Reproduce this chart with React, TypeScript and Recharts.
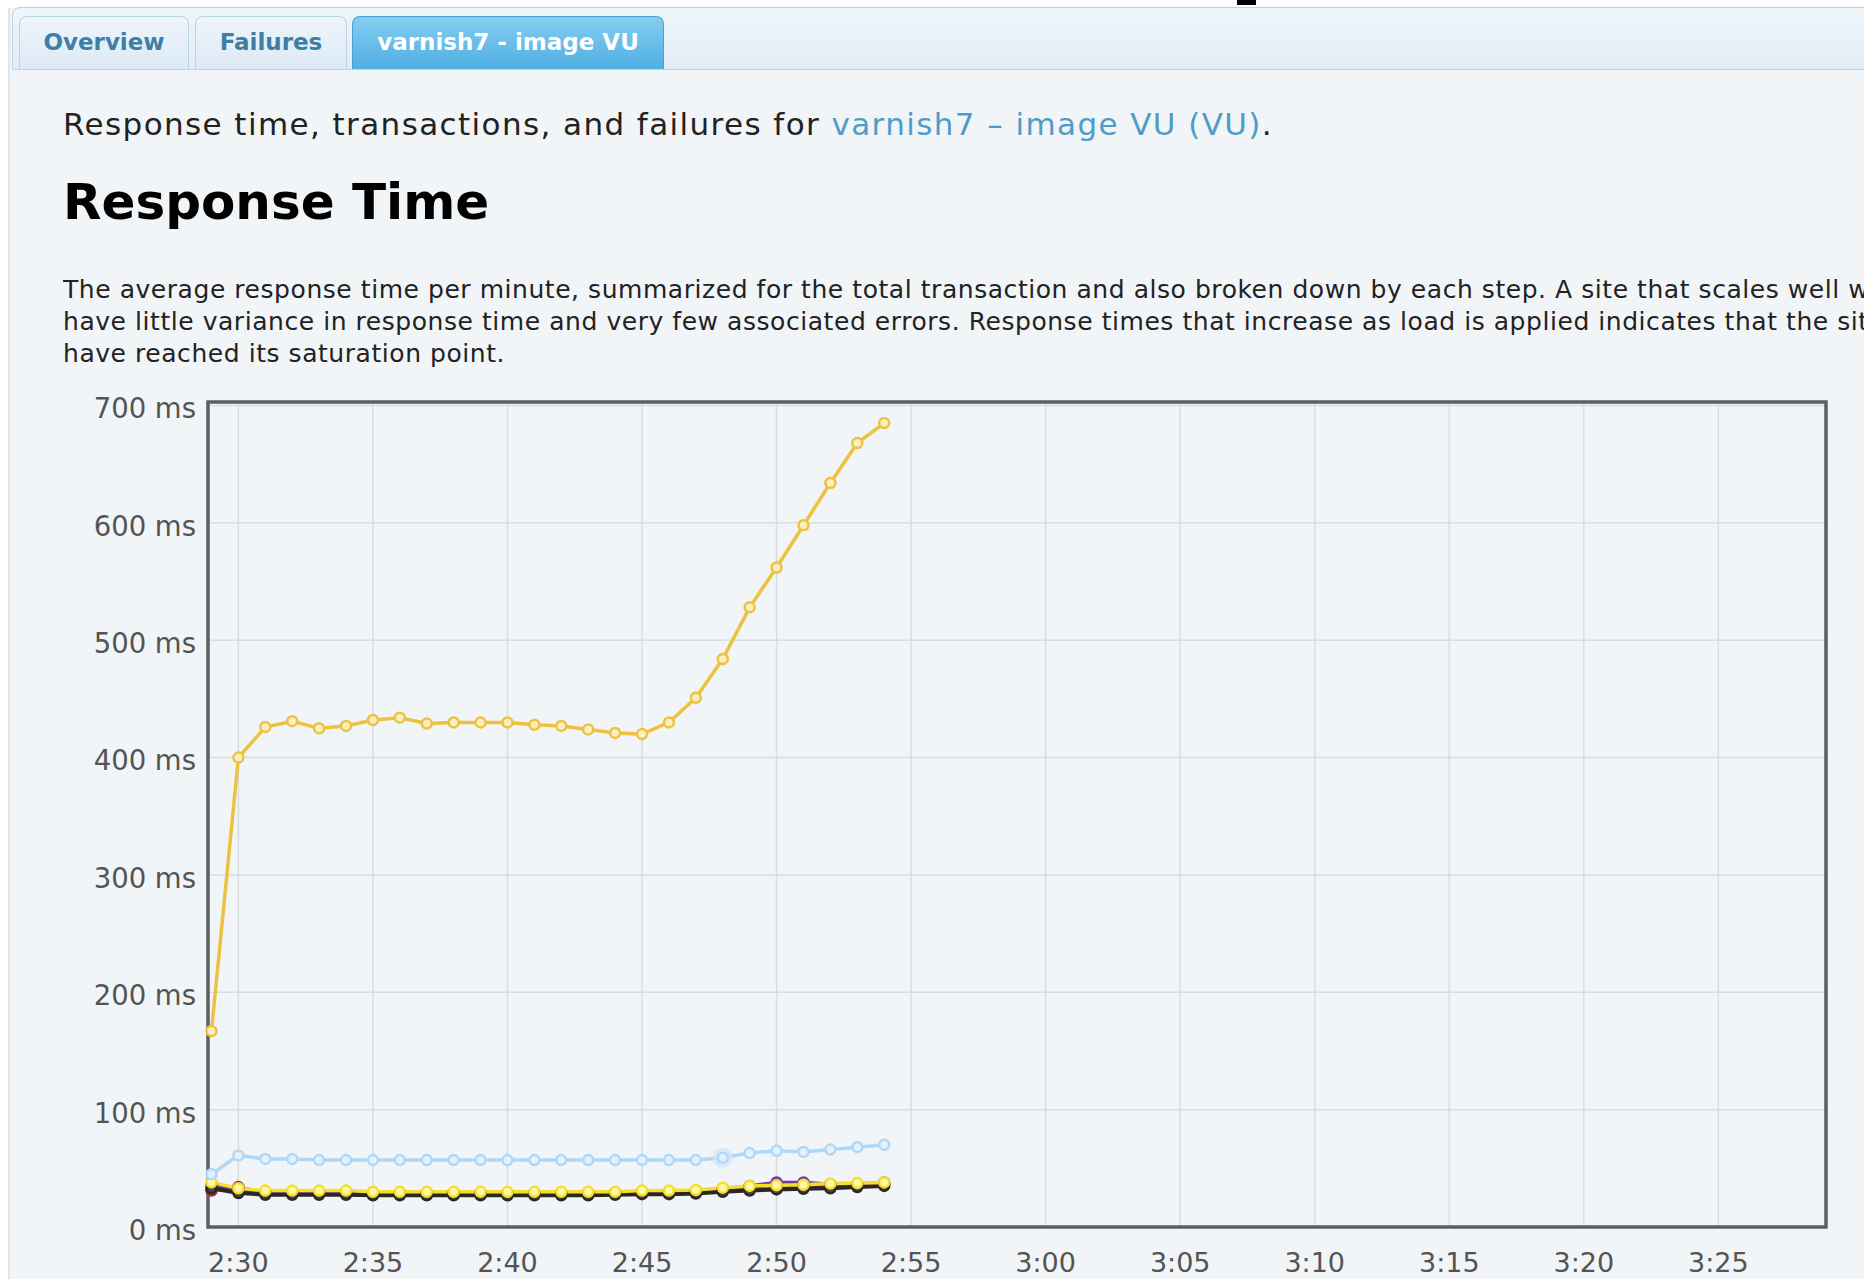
import React from 'react';
import { LineChart, Line, XAxis, YAxis, CartesianGrid, ReferenceArea } from 'recharts';

// sample times, one per minute
const TIMES = [
  '2:29', '2:30', '2:31', '2:32', '2:33', '2:34', '2:35', '2:36', '2:37',
  '2:38', '2:39', '2:40', '2:41', '2:42', '2:43', '2:44', '2:45', '2:46',
  '2:47', '2:48', '2:49', '2:50', '2:51', '2:52', '2:53', '2:54',
];

const X_TICK_LABELS = [
  '2:30', '2:35', '2:40', '2:45', '2:50', '2:55',
  '3:00', '3:05', '3:10', '3:15', '3:20', '3:25',
];

const Y_TICKS = [0, 100, 200, 300, 400, 500, 600, 700];

// response times in ms
const totalMs = [
  167, 400, 426, 431, 425, 427, 432, 434, 429, 430, 430, 430, 428,
  427, 424, 421, 420, 430, 451, 484, 528, 562, 598, 634, 668, 685,
];
const stepBlueMs = [
  45, 61, 58, 58, 57, 57, 57, 57, 57, 57, 57, 57, 57,
  57, 57, 57, 57, 57, 57, 59, 63, 65, 64, 66, 68, 70,
];
const stepRedMs = [
  31, 34, 29, 29, 29, 29, 28.5, 28.5, 28.5, 28.5, 28.5, 28.5, 28.5,
  28.5, 28.5, 29, 29.5, 29.5, 30, 31.5, 32.5, 33.5, 34, 34.5, 35.5, 36.5,
];
const stepPurpleMs = [
  36, 32, 29.5, 29.5, 29.5, 29.5, 29, 29, 29, 29, 29, 29, 29,
  29, 29, 29.5, 30, 30, 30.5, 32.5, 35, 38, 38, 36.5, 37, 38,
];
const stepDarkMs = [
  33, 29, 27.5, 27.5, 27.5, 27.5, 27, 27, 27, 27, 27, 27, 27,
  27, 27, 27.5, 28, 28, 28.5, 30, 31, 32, 32.5, 33, 34, 35,
];
const stepYellowMs = [
  38, 33, 31, 31, 31, 31, 30, 30, 30, 30, 30, 30, 30,
  30, 30, 30, 31, 31, 31.5, 33.5, 35, 35.5, 36, 37, 37.5, 38,
];

// minutes after 2:30
const toMinutes = (label: string) => {
  const [h, m] = label.split(':').map(Number);
  return h * 60 + m - 150;
};
const fromMinutes = (v: number) => {
  const t = v + 150;
  const h = Math.floor(t / 60);
  const m = Math.round(t - h * 60);
  return `${h}:${m < 10 ? '0' + m : m}`;
};

const X_DOMAIN: [number, number] = [-1.13, 59];
const Y_DOMAIN: [number, number] = [0, 703];

const data = TIMES.map((t, i) => ({
  x: toMinutes(t),
  total: totalMs[i],
  blue: stepBlueMs[i],
  red: stepRedMs[i],
  purple: stepPurpleMs[i],
  dark: stepDarkMs[i],
  yellow: stepYellowMs[i],
}));

const FONT = '"DejaVu Sans", sans-serif';

const XTick = (props: any) => {
  const { x, y, payload } = props;
  return (
    <text x={x} y={y + 27} dy="0.36em" textAnchor="middle" fontSize={27} fill="#545454" fontFamily={FONT}>
      {fromMinutes(payload.value)}
    </text>
  );
};

const YTick = (props: any) => {
  const { x, y, payload } = props;
  return (
    <text x={x} y={y + 3} dy="0.36em" textAnchor="end" fontSize={27.5} fill="#545454" fontFamily={FONT}>
      {`${payload.value} ms`}
    </text>
  );
};

const blueDot = (props: any) => {
  const { cx, cy, index } = props;
  if (index === 19) {
    return (
      <g key={`bd-${index}`}>
        <circle cx={cx} cy={cy} r={10} fill="#cfe7fb" fillOpacity={0.8} />
        <circle cx={cx} cy={cy} r={5} fill="#e2f1fd" stroke="#afd8f8" strokeWidth={2.5} />
      </g>
    );
  }
  return <circle key={`bd-${index}`} cx={cx} cy={cy} r={5} fill="#e2f1fd" stroke="#afd8f8" strokeWidth={2.5} />;
};

function Tabs() {
  const tab = (left: number, width: number, label: string, active = false) => (
    <div
      style={{
        position: 'absolute',
        left,
        top: 8,
        width,
        height: 53,
        boxSizing: 'border-box',
        borderRadius: '8px 8px 0 0',
        border: active ? '1.5px solid #4a9fd5' : '1.5px solid #b9d3e7',
        borderBottom: 'none',
        background: active
          ? 'linear-gradient(#86cdf0, #4fafe3)'
          : 'linear-gradient(#eef5fb, #dde9f4)',
        color: active ? '#ffffff' : '#3e7fa6',
        fontWeight: 'bold',
        fontSize: 23,
        lineHeight: '50px',
        textAlign: 'center',
      }}
    >
      {label}
    </div>
  );
  return (
    <div
      style={{
        position: 'absolute',
        left: 12,
        top: 7,
        width: 1870,
        height: 63,
        boxSizing: 'border-box',
        border: '1.5px solid #b9d3e7',
        borderRadius: '8px 0 0 0',
        background: 'linear-gradient(#f0f6fa, #dfecf6)',
      }}
    >
      {tab(6, 170, 'Overview')}
      {tab(182, 152, 'Failures')}
      {tab(339, 312, 'varnish7 - image VU', true)}
    </div>
  );
}

export default function App() {
  return (
    <div
      style={{
        position: 'relative',
        width: 1864,
        height: 1279,
        overflow: 'hidden',
        background: '#ffffff',
        fontFamily: FONT,
      }}
    >
      <style>{'body{margin:0}'}</style>
      <div
        style={{
          position: 'absolute',
          left: 8,
          top: 8,
          width: 1856,
          height: 1271,
          background: '#f2f5f7',
          borderLeft: '2px solid #e2e5e7',
        }}
      />
      <div style={{ position: 'absolute', left: 1237, top: 0, width: 19, height: 5, background: '#000' }} />
      <Tabs />

      <div style={{ position: 'absolute', left: 63, top: 106, fontSize: 31, letterSpacing: 1.4, lineHeight: '36px', color: '#222', whiteSpace: 'nowrap' }}>
        Response time, transactions, and failures for{' '}
        <span style={{ color: '#4f9dc6' }}>varnish7 – image VU (VU)</span>.
      </div>
      <div style={{ position: 'absolute', left: 63, top: 172, fontSize: 50, lineHeight: '60px', fontWeight: 'bold', color: '#000' }}>
        Response Time
      </div>
      <div style={{ position: 'absolute', left: 63, top: 274, width: 1801, overflow: 'hidden', fontSize: 25, letterSpacing: 0.55, lineHeight: '32px', color: '#222', whiteSpace: 'nowrap' }}>
        <div>The average response time per minute, summarized for the total transaction and also broken down by each step. A site that scales well will</div>
        <div>have little variance in response time and very few associated errors. Response times that increase as load is applied indicates that the site may</div>
        <div>have reached its saturation point.</div>
      </div>

      <div style={{ position: 'absolute', left: 0, top: 380 }}>
        <LineChart width={1864} height={899} data={data} margin={{ top: 22, right: 38, bottom: 0, left: 0 }}>
          <CartesianGrid stroke="#d9dde0" strokeWidth={1.5} />
          <XAxis
            dataKey="x"
            type="number"
            domain={X_DOMAIN}
            ticks={X_TICK_LABELS.map(toMinutes)}
            axisLine={false}
            tickLine={false}
            height={52}
            tick={<XTick />}
          />
          <YAxis
            type="number"
            domain={Y_DOMAIN}
            ticks={Y_TICKS}
            axisLine={false}
            tickLine={false}
            tickMargin={6}
            width={208}
            tick={<YTick />}
          />
          <ReferenceArea
            x1={X_DOMAIN[0]}
            x2={X_DOMAIN[1]}
            y1={Y_DOMAIN[0]}
            y2={Y_DOMAIN[1]}
            fill="none"
            stroke="#5c5f62"
            strokeWidth={3.5}
          />
          <Line type="linear" dataKey="red" stroke="#8f3232" strokeWidth={3.5} isAnimationActive={false}
            dot={{ r: 5, fill: '#c26a6a', stroke: '#8f3232', strokeWidth: 2.5 }} />
          <Line type="linear" dataKey="purple" stroke="#6f3aa6" strokeWidth={3.5} isAnimationActive={false}
            dot={{ r: 5, fill: '#a57fd0', stroke: '#6f3aa6', strokeWidth: 2.5 }} />
          <Line type="linear" dataKey="dark" stroke="#2b2722" strokeWidth={4} isAnimationActive={false}
            dot={{ r: 5, fill: '#4a453e', stroke: '#2b2722', strokeWidth: 2.5 }} />
          <Line type="linear" dataKey="yellow" stroke="#f3df2c" strokeWidth={3.5} isAnimationActive={false}
            dot={{ r: 5, fill: '#fff8a8', stroke: '#f3df2c', strokeWidth: 2.5 }} />
          <Line type="linear" dataKey="blue" stroke="#afd8f8" strokeWidth={3.5} isAnimationActive={false} dot={blueDot} />
          <Line type="linear" dataKey="total" stroke="#edc240" strokeWidth={3.5} isAnimationActive={false}
            dot={{ r: 5, fill: '#faefc0', stroke: '#edc240', strokeWidth: 2.5 }} />
        </LineChart>
      </div>
    </div>
  );
}
